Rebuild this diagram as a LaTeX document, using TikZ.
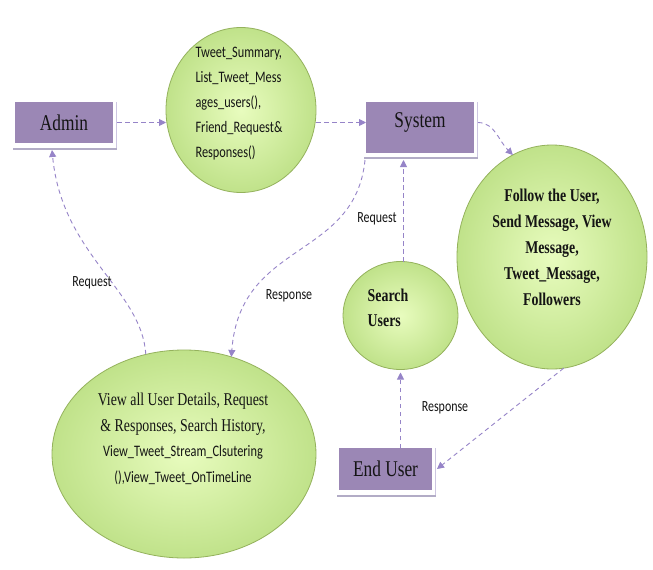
\documentclass[tikz,border=0pt]{standalone}
\usepackage{fontspec}
\setmainfont{Liberation Serif}
\newfontfamily\serifN[FakeStretch=0.77]{Liberation Serif}
\newfontfamily\calN[FakeStretch=0.77]{Carlito}
\usetikzlibrary{shapes.geometric,arrows.meta}
\definecolor{boxfill}{RGB}{155,135,181}
\definecolor{arrcol}{RGB}{150,132,200}
\definecolor{shadA}{RGB}{205,198,225}
\definecolor{shadB}{RGB}{178,172,198}
\definecolor{ellIn}{RGB}{232,252,190}
\definecolor{ellOut}{RGB}{192,226,138}
\definecolor{ellBorder}{RGB}{148,178,92}
\definecolor{txt}{RGB}{20,20,20}
\begin{document}
\begin{tikzpicture}[x=1pt,y=-1pt,
  box/.style={rectangle, fill=boxfill, inner sep=0pt, outer sep=0pt, text=txt,
    font=\serifN\fontsize{22.5}{26}\selectfont},
  bubble/.style={ellipse, inner sep=0pt, outer sep=0pt, shading=radial,
    inner color=ellIn, outer color=ellOut, draw=ellBorder, line width=0.8pt},
  arr/.style={draw=arrcol, line width=0.9pt, dash pattern=on 4.5pt off 3.5pt,
    -{Triangle[length=7pt,width=7pt,fill=arrcol]}},
  shv/.style={draw=shadA, line width=1.2pt},
  shh/.style={draw=shadB, line width=2.5pt},
  lbl/.style={text=txt, inner sep=0pt, font=\calN\fontsize{15.5}{18}\selectfont},
  caltext/.style={text=txt, inner sep=0pt, font=\calN\fontsize{16}{25}\selectfont},
  boldtext/.style={text=txt, inner sep=0pt, font=\serifN\bfseries\fontsize{18}{26}\selectfont}
]
\fill[white] (0,0) rectangle (653,570);
\useasboundingbox (0,0) rectangle (653,570);

% boxes
\node[box, minimum width=98pt, minimum height=41pt] (admin) at (64,122.5) {Admin};
\node[box, minimum width=108pt, minimum height=51pt] (sys) at (420,127.5) {};
\node[text=txt, inner sep=0pt, font=\serifN\fontsize{22.5}{26}\selectfont] (systext) at (420,122) {System};
\node[box, minimum width=93pt, minimum height=42pt] (eu) at (385.5,469) {End User};

% box shadows
\draw[shv] ([xshift=3.5pt]admin.north east) -- ([xshift=3.5pt,yshift=-7pt]admin.south east);
\draw[shh] ([xshift=-2pt,yshift=-6pt]admin.south west) -- ([xshift=4pt,yshift=-6pt]admin.south east);
\draw[shv] ([xshift=3.5pt]sys.north east) -- ([xshift=3.5pt,yshift=-6pt]sys.south east);
\draw[shh] ([xshift=-2pt,yshift=-5pt]sys.south west) -- ([xshift=4pt,yshift=-5pt]sys.south east);
\draw[shv] ([xshift=3.5pt]eu.north east) -- ([xshift=3.5pt,yshift=-7pt]eu.south east);
\draw[shh] ([xshift=-2pt,yshift=-6pt]eu.south west) -- ([xshift=4pt,yshift=-6pt]eu.south east);

% ellipses
\node[bubble, minimum width=150pt, minimum height=165pt] (top) at (241,110) {};
\node[bubble, minimum width=190pt, minimum height=224pt] (rt) at (552,257) {};
\node[bubble, minimum width=115pt, minimum height=108pt] (search) at (400.5,315.5) {};
\node[bubble, minimum width=264pt, minimum height=208pt] (bot) at (184,454) {};

% ellipse texts
\node[caltext, align=left] (toptext) at (239,104)
  {Tweet\_Summary,\\List\_Tweet\_Mess\\ages\_users(),\\Friend\_Request\&\\Responses()};
\node[boldtext, align=center] (rttext) at (552,247)
  {Follow the User,\\Send Message, View\\Message,\\Tweet\_Message,\\Followers};
\node[boldtext, align=left, font=\serifN\bfseries\fontsize{18}{25}\selectfont] (searchtext) at (388,308)
  {Search\\Users};
\node[text=txt, inner sep=0pt, align=center, font=\serifN\fontsize{18}{25.5}\selectfont] (bottext) at (183,439)
  {View all User Details, Request\\\& Responses, Search History,\\{\calN\fontsize{16}{25.5}\selectfont View\_Tweet\_Stream\_Clsutering}\\{\calN\fontsize{16}{25.5}\selectfont (),View\_Tweet\_OnTimeLine}};

% helper coordinates
\path (admin.east) ++(4,0) coordinate (admout);
\path (sys.east |- admin.east) ++(4,0) coordinate (sysout);
\path (sys.south west) ++(-1,7) coordinate (sysbl);
\path (admin.south) ++(-12,7) coordinate (admtip);
\path (search.north) ++(3,0) coordinate (sn);
\path (eu.east) ++(5,0) coordinate (euin);

% connectors
\draw[arr] (admout) -- (admout -| top.west);
\draw[arr] (top.east |- admin.east) -- (sys.west |- admin.east);
\draw[arr] (sysout) .. controls (495,123) and (498,140) .. (rt.111);
\draw[arr] (bot.111) .. controls (142,290) and (62,255) .. (admtip);
\draw[arr] (sysbl) .. controls (355,260) and (240,240) .. (bot.64);
\draw[arr] (sn) -- (sn |- sysbl);
\draw[arr] (search.south |- eu.north) -- ([yshift=-3pt]search.south);
\draw[arr] (rt.-84) -- (euin);

% labels
\node[lbl] (l1) at (92,283) {Request};
\node[lbl] (l2) at (289,296) {Response};
\node[lbl] (l3) at (377,219) {Request};
\node[lbl] (l4) at (445,408) {Response};
\end{tikzpicture}
\end{document}
